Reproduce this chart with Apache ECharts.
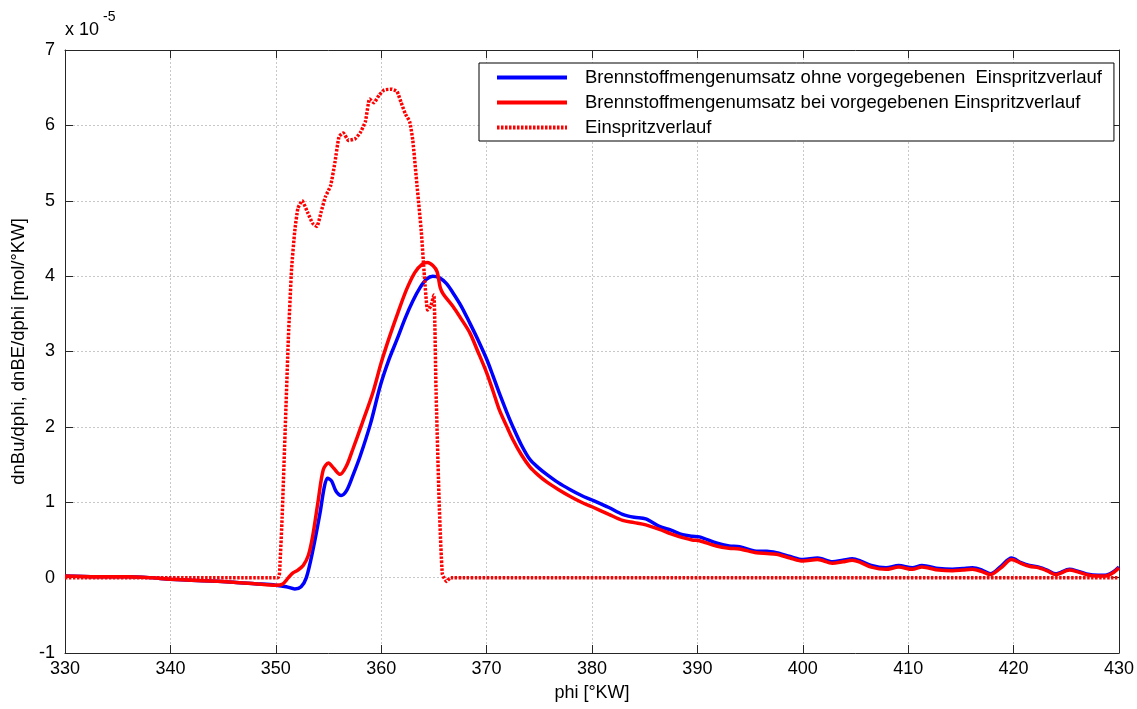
<!DOCTYPE html>
<html>
<head>
<meta charset="utf-8">
<script src="https://cdn.jsdelivr.net/npm/echarts@6/dist/echarts.min.js"></script>
<style>
html,body{margin:0;padding:0;background:#fff;}
#chart{width:1137px;height:709px;}
</style>
</head>
<body>
<div id="chart"></div>
<script>
// Units: 1e-5 mol/°KW
var seriesNames = [
  'Brennstoffmengenumsatz ohne vorgegebenen  Einspritzverlauf',
  'Brennstoffmengenumsatz bei vorgegebenen Einspritzverlauf',
  'Einspritzverlauf'
];
var xTicks = [330, 340, 350, 360, 370, 380, 390, 400, 410, 420, 430];
var yTicks = [-1, 0, 1, 2, 3, 4, 5, 6, 7];

var phiOhne = [330,333,336,338,340,343,346,348,350,351,351.8,352.4,352.9,353.5,354.2,354.6,354.9,355.3,355.7,356.2,356.7,357.3,358.0,359.0,359.9,360.7,361.5,362.3,363.0,363.7,364.3,364.9,365.5,366.2,366.8,367.6,368.4,369.2,370.0,370.6,371.2,371.9,372.5,373.3,374.1,374.9,375.7,376.8,377.9,379.0,380.0,381.6,382.9,384.0,385.1,386.4,387.5,388.6,389.5,390.2,391.8,393.0,394.0,395.6,396.6,397.5,398.8,400.0,401.4,402.8,403.8,404.7,405.5,406.5,407.9,409.1,410.4,411.3,412.9,414.2,415.2,416.1,417.0,417.8,418.8,419.8,420.7,421.5,422.4,423.2,424.0,425.3,426.0,426.9,428.0,428.7,429.4,430];
var valOhne = [0.02,0.01,0.01,0.0,-0.02,-0.04,-0.06,-0.08,-0.1,-0.12,-0.15,-0.12,0.0,0.35,0.86,1.2,1.32,1.28,1.15,1.09,1.15,1.35,1.61,2.05,2.54,2.88,3.16,3.45,3.67,3.85,3.96,4.0,3.98,3.9,3.78,3.6,3.38,3.15,2.9,2.68,2.45,2.2,2.0,1.76,1.57,1.46,1.37,1.26,1.17,1.09,1.03,0.93,0.84,0.8,0.78,0.68,0.63,0.57,0.55,0.54,0.46,0.42,0.41,0.35,0.35,0.33,0.28,0.24,0.26,0.21,0.23,0.25,0.22,0.16,0.13,0.16,0.13,0.16,0.12,0.11,0.12,0.13,0.1,0.05,0.15,0.26,0.2,0.16,0.14,0.1,0.05,0.11,0.09,0.05,0.03,0.03,0.07,0.14];

var phiBei = [330,333,336,338,340,343,346,348,350,350.6,351.2,351.6,352.1,352.6,353.1,353.5,354.0,354.5,355.0,355.5,356.1,356.7,357.3,358.2,359.2,360.0,360.8,361.6,362.4,363.2,363.9,364.4,364.9,365.3,365.6,365.9,366.8,367.6,368.4,369.2,370.0,370.6,371.2,371.9,372.5,373.3,374.1,374.9,375.7,376.8,377.9,379.0,380.0,381.6,382.9,384.0,385.1,386.4,387.5,388.6,389.5,390.2,391.8,393.0,394.0,395.6,396.6,397.5,398.8,400.0,401.4,402.8,403.8,404.7,405.5,406.5,407.9,409.1,410.4,411.3,412.9,414.2,415.2,416.1,417.0,417.8,418.8,419.8,420.7,421.5,422.4,423.2,424.0,425.3,426.0,426.9,428.0,428.7,429.4,430];
var valBei = [0.02,0.01,0.01,0.0,-0.02,-0.04,-0.06,-0.08,-0.1,-0.09,0.0,0.06,0.1,0.16,0.3,0.55,1.0,1.43,1.52,1.45,1.37,1.48,1.70,2.05,2.45,2.85,3.2,3.52,3.82,4.05,4.16,4.18,4.14,4.06,3.85,3.76,3.6,3.43,3.25,2.99,2.72,2.48,2.23,2.01,1.83,1.63,1.47,1.36,1.27,1.17,1.08,1.0,0.94,0.84,0.76,0.73,0.7,0.64,0.58,0.53,0.5,0.49,0.42,0.39,0.38,0.33,0.32,0.31,0.26,0.22,0.24,0.19,0.21,0.23,0.2,0.14,0.11,0.14,0.11,0.14,0.1,0.09,0.1,0.11,0.08,0.04,0.13,0.24,0.19,0.15,0.13,0.09,0.04,0.1,0.08,0.04,0.02,0.02,0.06,0.13];

var phiEinspr = [330,350.2,350.4,350.6,350.9,351.2,351.5,351.8,352.1,352.5,353.0,353.5,353.9,354.3,354.7,355.2,355.6,356.0,356.4,356.9,357.5,358.0,358.5,358.9,359.3,359.8,360.3,361.0,361.5,361.9,362.3,362.7,363.0,363.4,363.8,364.1,364.4,364.7,365.0,365.2,365.5,365.8,366.2,366.6,430];
var valEinspr = [0,0,0.2,0.8,2.0,3.2,4.1,4.6,4.9,5.0,4.85,4.7,4.66,4.85,5.05,5.2,5.5,5.85,5.9,5.8,5.82,5.9,6.05,6.35,6.3,6.4,6.47,6.48,6.45,6.3,6.15,6.05,5.8,5.2,4.6,4.0,3.55,3.6,3.75,2.5,1.0,0.05,-0.05,0,0];

function pairs(xs, ys){ var r=[]; for(var i=0;i<xs.length;i++) r.push([xs[i], ys[i]]); return r; }

var FONT = '"Liberation Sans", Arial, sans-serif';
var AX = '#262626';
var FS = 18;
var chart = echarts.init(document.getElementById('chart'), null, {renderer:'canvas'});

var commonX = {
  type:'value', min:xTicks[0], max:xTicks[xTicks.length-1], interval:10,
  axisLine:{show:true, onZero:false, lineStyle:{color:AX, width:1}},
  axisTick:{show:true, inside:true, length:8, lineStyle:{color:AX}},
  splitLine:{show:false}
};
var commonY = {
  type:'value', min:yTicks[0], max:yTicks[yTicks.length-1], interval:1,
  axisLine:{show:true, onZero:false, lineStyle:{color:AX, width:1}},
  axisTick:{show:true, inside:true, length:8, lineStyle:{color:AX}},
  splitLine:{show:false}
};

var option = {
  backgroundColor:'#ffffff',
  animation:false,
  textStyle:{fontFamily:FONT},
  grid:{left:65, right:17, top:50, bottom:56, containLabel:false},
  xAxis:[
    Object.assign({}, commonX, {
      position:'bottom',
      name:'phi [°KW]', nameLocation:'middle', nameGap:31,
      nameTextStyle:{fontSize:FS, color:'#000', fontFamily:FONT},
      axisLabel:{show:true, fontSize:FS, color:'#000', margin:7, fontFamily:FONT},
      splitLine:{show:true, lineStyle:{color:'#c8c8c8', type:[2,2], width:1}}
    }),
    Object.assign({}, commonX, {position:'top', axisLabel:{show:false}})
  ],
  yAxis:[
    Object.assign({}, commonY, {
      position:'left',
      name:'dnBu/dphi, dnBE/dphi [mol/°KW]', nameLocation:'middle', nameGap:34,
      nameTextStyle:{fontSize:18.5, color:'#000', fontFamily:FONT},
      axisLabel:{show:true, fontSize:FS, color:'#000', margin:10, fontFamily:FONT},
      splitLine:{show:true, lineStyle:{color:'#c8c8c8', type:[2,2], width:1}}
    }),
    Object.assign({}, commonY, {position:'right', axisLabel:{show:false}})
  ],
  legend:{
    show:true, orient:'vertical', left:479, top:63,
    backgroundColor:'#fff', borderColor:'#000', borderWidth:1, borderRadius:0,
    padding:[5, 12, 4, 16], itemGap:6, itemWidth:70, itemHeight:19,
    itemStyle:{opacity:0},
    lineStyle:{width:4},
    textStyle:{fontSize:18.5, color:'#000', fontFamily:FONT, padding:[0,0,0,13]},
    data:[seriesNames[0], seriesNames[1], seriesNames[2]]
  },
  series:[
    {
      name:seriesNames[0], type:'line', xAxisIndex:0, yAxisIndex:0,
      data:pairs(phiOhne, valOhne), showSymbol:false, symbol:'none', smooth:0.3,
      lineStyle:{color:'#0000ff', width:3.5}, itemStyle:{color:'#0000ff'}, z:2
    },
    {
      name:seriesNames[1], type:'line', xAxisIndex:0, yAxisIndex:0,
      data:pairs(phiBei, valBei), showSymbol:false, symbol:'none', smooth:0.3,
      lineStyle:{color:'#ff0000', width:3.5}, itemStyle:{color:'#ff0000'}, z:3
    },
    {
      name:seriesNames[2], type:'line', xAxisIndex:0, yAxisIndex:0,
      data:pairs(phiEinspr, valEinspr), showSymbol:false, symbol:'none', smooth:0.15,
      lineStyle:{color:'#ff0000', width:3.5, type:[2.5,1.5]}, itemStyle:{color:'#ff0000'}, z:4
    }
  ],
  graphic:[
    {type:'text', left:65, top:21, style:{text:'x 10', fontSize:FS, fill:'#000', fontFamily:FONT}},
    {type:'text', left:103, top:10, style:{text:'-5', fontSize:14, fill:'#000', fontFamily:FONT}}
  ]
};
chart.setOption(option);
</script>
</body>
</html>
